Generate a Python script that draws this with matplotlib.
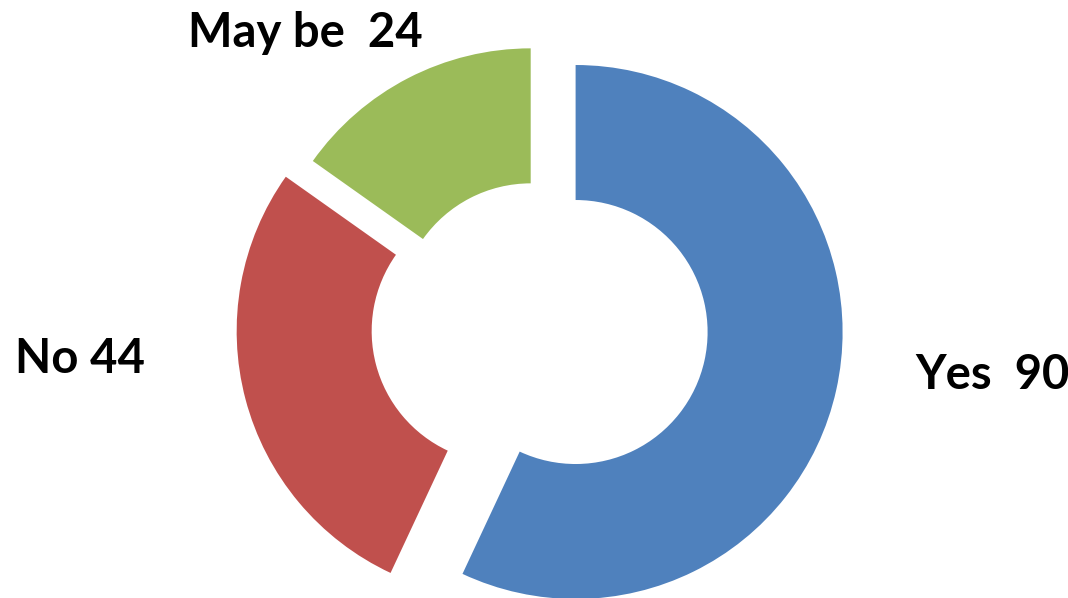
import matplotlib.pyplot as plt

# Data
labels = ["Yes", "No", "May be"]
values = [90, 44, 24]
label_text = ["Yes  90", "No 44", "May be  24"]
colors = ["#4F81BD", "#C0504D", "#9BBB59"]

W, H = 1068, 598

fig = plt.figure(figsize=(W / 100, H / 100), dpi=100)
ax = fig.add_axes([0, 0, 1, 1])

# geometry in pixel units (y measured upward)
cx, cy = 534.6, H - 322.9
R, r = 267, 132
explode = [42, 32, 8.5]

ax.pie(values, colors=colors, startangle=90, counterclock=False,
       radius=R, center=(cx, cy), explode=explode,
       wedgeprops=dict(width=R - r, linewidth=0))

ax.set_xlim(0, W)
ax.set_ylim(0, H)
ax.set_aspect("auto")
ax.axis("off")

# label positions (left edge, baseline) in pixels from top-left
label_pos = [(915, 389), (15, 373), (188, 47)]
for txt, (x, y) in zip(label_text, label_pos):
    ax.text(x, H - y, txt, ha="left", va="baseline",
            fontsize=34, fontweight="bold", family="Lato", color="black")

fig.savefig("out.png", dpi=100, facecolor="white")
